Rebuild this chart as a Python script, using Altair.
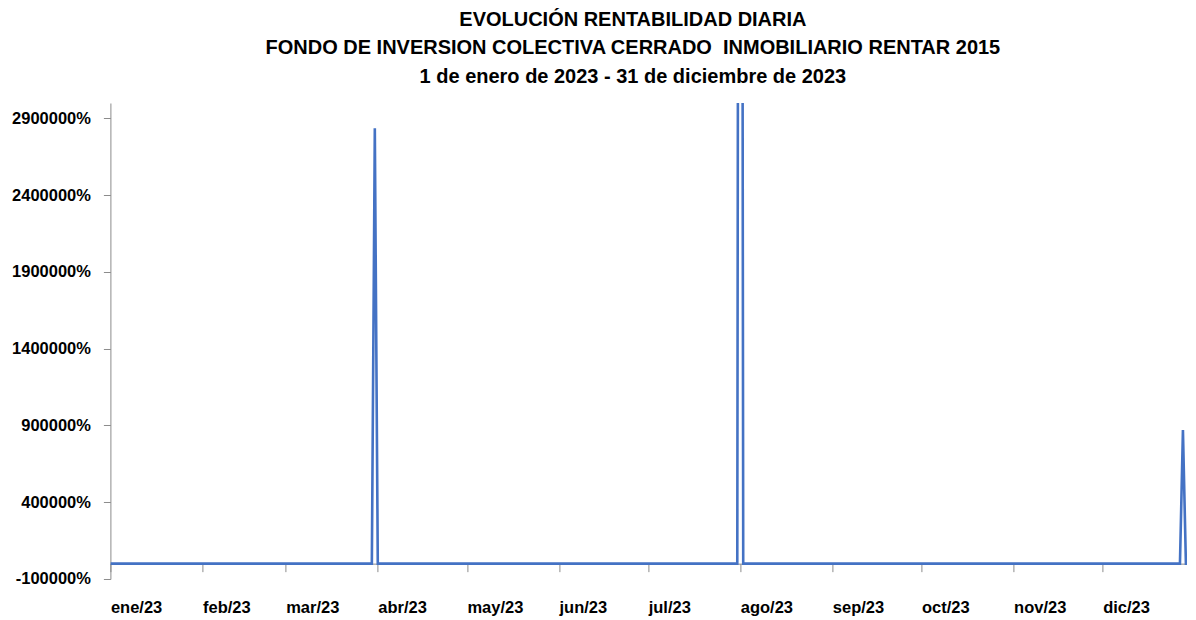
import altair as alt
import pandas as pd

# ---- data ----
dates = ["2023-01-01", "2023-03-30", "2023-03-31", "2023-04-01",
         "2023-07-31", "2023-08-01", "2023-08-02",
         "2023-12-27", "2023-12-28", "2023-12-29", "2023-12-31"]
rentabilidad = [0, 0, 2835000, 0,
                0, 15000000, 0,
                0, 870000, 0, 0]

month_labels = ["ene", "feb", "mar", "abr", "may", "jun",
                "jul", "ago", "sep", "oct", "nov", "dic"]
y_ticks = [-100000, 400000, 900000, 1400000, 1900000, 2400000, 2900000]

title_lines = [
    "EVOLUCIÓN RENTABILIDAD DIARIA",
    "FONDO DE INVERSION COLECTIVA CERRADO\u00a0 INMOBILIARIO RENTAR 2015",
    "1 de enero de 2023 - 31 de diciembre de 2023",
]

df = pd.DataFrame({"fecha": dates, "valor": rentabilidad})

month_ticks = [alt.DateTime(year=2023, month=m, date=1, utc=True) for m in range(1, 13)]
label_expr = ("[" + ",".join("'%s'" % m for m in month_labels) + "][utcmonth(datum.value)]"
              " + '/' + utcFormat(datum.value, '%y')")

AXIS_FONT = "Liberation Sans, Arial"

chart = alt.Chart(df).mark_line(color="#4472C4", strokeWidth=2.6, clip=True).encode(
    x=alt.X(
        "fecha:T",
        scale=alt.Scale(
            type="utc",
            domain=[alt.DateTime(year=2023, month=1, date=1, utc=True),
                    alt.DateTime(year=2023, month=12, date=29, hours=12, utc=True)],
        ),
        axis=alt.Axis(
            values=month_ticks,
            labelExpr=label_expr,
            title=None,
            grid=False,
            offset=-15.35,
            domainColor="#8c8c8c",
            tickColor="#8c8c8c",
            tickSize=8,
            labelAlign="left",
            labelBaseline="alphabetic",
            labelPadding=41,
            labelFont=AXIS_FONT,
            labelFontSize=16.5,
            labelFontWeight="bold",
            labelColor="#000000",
            labelOverlap=False,
        ),
    ),
    y=alt.Y(
        "valor:Q",
        scale=alt.Scale(domain=[-100000, 3000000], nice=False, zero=False),
        axis=alt.Axis(
            values=y_ticks,
            labelExpr="datum.value + '%'",
            title=None,
            grid=False,
            domainColor="#8c8c8c",
            tickColor="#8c8c8c",
            tickSize=7,
            labelPadding=13,
            labelFont=AXIS_FONT,
            labelFontSize=16.5,
            labelFontWeight="bold",
            labelColor="#000000",
        ),
    ),
).properties(
    width=1077,
    height=476,
    autosize=alt.AutoSizeParams(type="none"),
    padding={"left": 102.4, "top": 95, "right": 0, "bottom": 40},
    title=alt.TitleParams(
        text=title_lines,
        font="Liberation Sans, Arial",
        fontSize=20,
        fontWeight="bold",
        color="#000000",
        anchor="middle",
        frame="group",
        dx=-16,
        lineHeight=28.5,
        offset=16,
    ),
).configure_view(stroke=None)

chart.save("out.html", embed_options={"renderer": "svg", "actions": False})
